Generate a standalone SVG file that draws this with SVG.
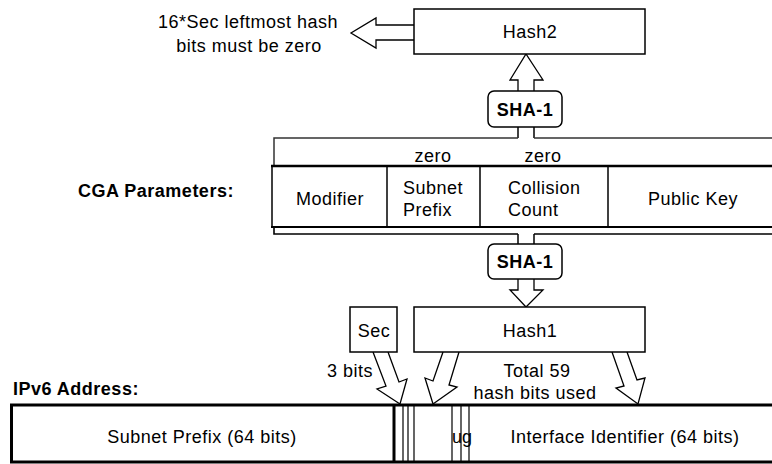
<svg xmlns="http://www.w3.org/2000/svg" width="772" height="464" viewBox="0 0 772 464">
<style>
text{font-family:"Liberation Sans",Arial,sans-serif;font-size:18px;fill:#000;letter-spacing:0.5px}
.b{font-weight:bold}
.m{text-anchor:middle}
.e{text-anchor:end}
.box{fill:#fff;stroke:#000;stroke-width:1.5}
.ln{stroke:#000;stroke-width:1.5;fill:none}
.arr{fill:#fff;stroke:#000;stroke-width:1.3;stroke-linejoin:miter}
</style>
<rect width="772" height="464" fill="#fff"/>
<g id="connectors">
<polyline class="arr" points="414,25 376,25 376,18 351,33 376,48 376,40 414,40"/>
<polyline class="arr" points="518,91 518,80 510,80 526,54 543,80 534,80 534,91"/>
<line class="ln" x1="518" y1="127" x2="518" y2="138"/>
<line class="ln" x1="534" y1="127" x2="534" y2="138"/>
<line class="ln" x1="518" y1="234" x2="518" y2="244"/>
<line class="ln" x1="534" y1="234" x2="534" y2="244"/>
<polyline class="arr" points="518,279 518,290 510,290 526,307 543,290 534,290 534,279"/>
<polyline class="arr" points="373,352 386,386 377,389 400,404 407,379 399,382 388,352"/>
<polyline class="arr" points="443,352 433,381 425,378 433,404 457,387 449,385 459,352"/>
<polyline class="arr" points="612,352 624,386 616,388 638,404 645,378 637,380 627,352"/>
</g>
<g id="hash2">
<rect class="box" x="414" y="9" width="231" height="45"/>
<text class="m" x="530" y="38">Hash2</text>
</g>
<g id="note">
<text class="m" x="248" y="28">16*Sec leftmost hash</text>
<text class="m" x="249" y="52">bits must be zero</text>
</g>
<g id="sha1-top">
<rect class="box" x="488" y="91" width="74" height="36" rx="6"/>
<text class="m b" x="525" y="116">SHA-1</text>
</g>
<g id="cga">
<text class="b" x="78" y="197">CGA Parameters:</text>
<path d="M274,166 V138 H518 M534,138 H772" stroke="#333" stroke-width="1.5" fill="none"/>
<path d="M274,227 V234 H518 M534,234 H772" stroke="#000" stroke-width="1.6" fill="none"/>
<rect x="272" y="166" width="510" height="61" fill="#fff"/>
<line x1="271" y1="166" x2="772" y2="166" stroke="#000" stroke-width="2.5"/>
<line x1="271" y1="227" x2="772" y2="227" stroke="#000" stroke-width="2"/>
<line class="ln" x1="272" y1="166" x2="272" y2="227"/>
<line class="ln" x1="387" y1="166" x2="387" y2="227"/>
<line class="ln" x1="480" y1="166" x2="480" y2="227"/>
<line class="ln" x1="608" y1="166" x2="608" y2="227"/>
<text class="m" x="330" y="205">Modifier</text>
<text class="m" x="433" y="162">zero</text>
<text class="m" x="543" y="162">zero</text>
<text x="403" y="194">Subnet</text>
<text x="403" y="216">Prefix</text>
<text x="508" y="194">Collision</text>
<text x="508" y="216">Count</text>
<text class="m" x="693" y="205">Public Key</text>
</g>
<g id="sha1-bottom">
<rect class="box" x="488" y="244" width="74" height="35" rx="6"/>
<text class="m b" x="525" y="268">SHA-1</text>
</g>
<g id="sec">
<rect class="box" x="350" y="307" width="47" height="45"/>
<text class="m" x="374" y="337">Sec</text>
</g>
<g id="hash1">
<rect class="box" x="414" y="307" width="231" height="45"/>
<text class="m" x="530" y="337">Hash1</text>
</g>
<g id="labels">
<text class="e" x="373" y="377">3 bits</text>
<text class="m" x="537" y="377">Total 59</text>
<text class="m" x="535" y="399">hash bits used</text>
</g>
<g id="ipv6">
<text class="b" x="13" y="395">IPv6 Address:</text>
<path d="M11.5,405 V462 M10,405 H772 M10,462 H772 M394,405 V462" stroke="#000" stroke-width="3" fill="none"/>
<path d="M403,405 V462 M408,405 V462 M414,405 V462 M452,405 V462 M461,405 V462 M469,405 V462" stroke="#000" stroke-width="1.2" fill="none"/>
<text class="m" x="202" y="443">Subnet Prefix (64 bits)</text>
<text x="452" y="443" style="letter-spacing:0">ug</text>
<text class="m" x="625" y="443">Interface Identifier (64 bits)</text>
</g>
</svg>
